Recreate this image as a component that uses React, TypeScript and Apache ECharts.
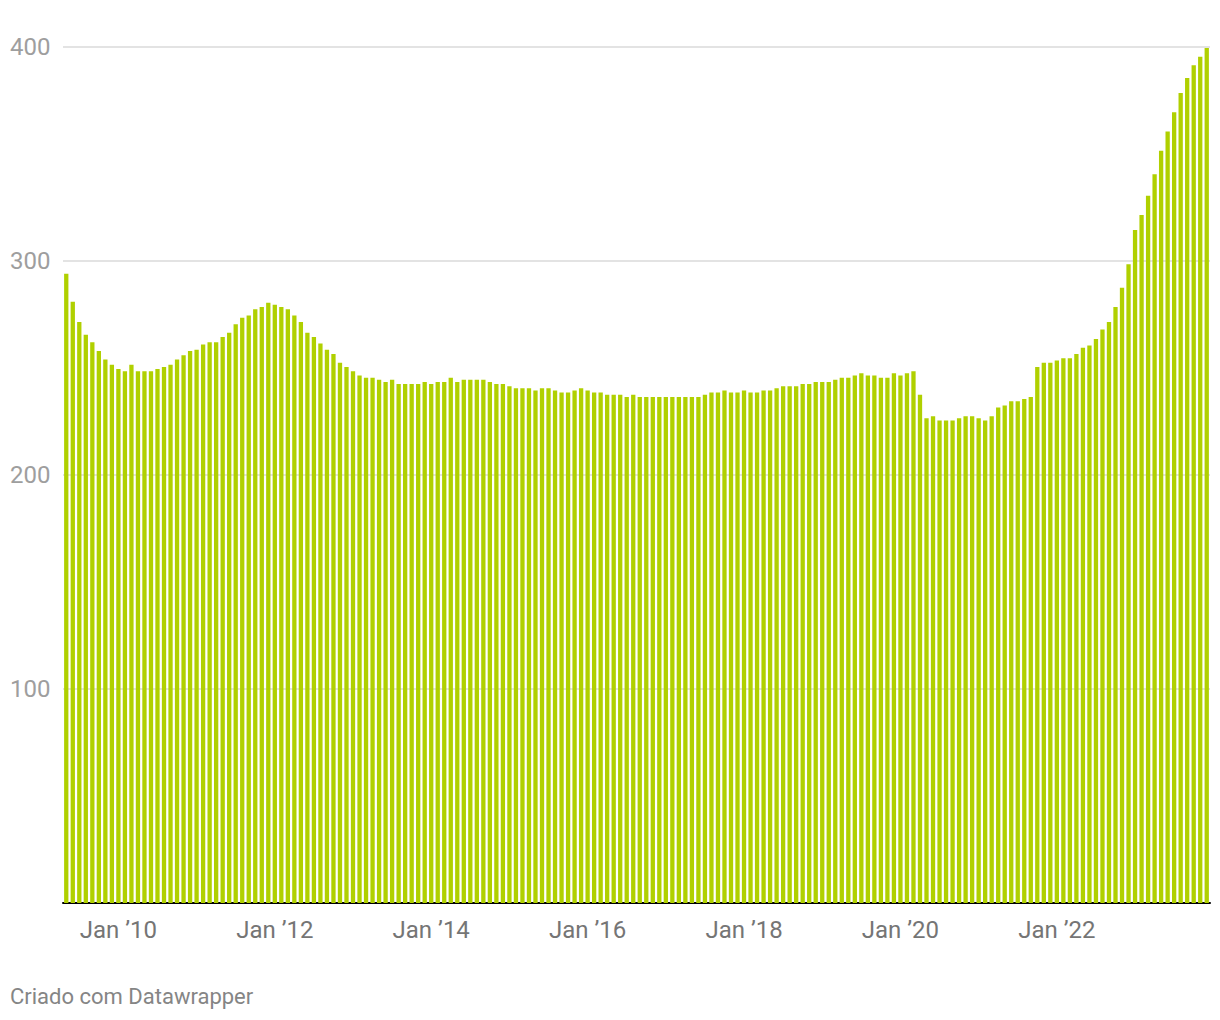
import React, { useEffect, useRef } from "react";
import * as echarts from "echarts";

const startYear = 2009;
const startMonth = 5; // May 2009

const values: number[] = [
  294, 281, 271.5, 265.5, 262, 258, 254, 251.5, 249.5, 248.5,
  251.5, 248.5, 248.5, 248.5, 249.5, 250.5, 251.5, 254, 256, 258,
  258.5, 261, 262, 262, 264.5, 266.5, 270.5, 273.5, 274.5, 277.5,
  278.5, 280.5, 279.5, 278.5, 277.5, 274.5, 271.5, 266.5, 264.5, 261.5,
  258.5, 256.5, 252.5, 250.5, 248.5, 246.5, 245.5, 245.5, 244.5, 243.5,
  244.5, 242.5, 242.5, 242.5, 242.5, 243.5, 242.5, 243.5, 243.5, 245.5,
  243.5, 244.5, 244.5, 244.5, 244.5, 243.5, 242.5, 242.5, 241.5, 240.5,
  240.5, 240.5, 239.5, 240.5, 240.5, 239.5, 238.5, 238.5, 239.5, 240.5,
  239.5, 238.5, 238.5, 237.5, 237.5, 237.5, 236.5, 237.5, 236.5, 236.5,
  236.5, 236.5, 236.5, 236.5, 236.5, 236.5, 236.5, 236.5, 237.5, 238.5,
  238.5, 239.5, 238.5, 238.5, 239.5, 238.5, 238.5, 239.5, 239.5, 240.5,
  241.5, 241.5, 241.5, 242.5, 242.5, 243.5, 243.5, 243.5, 244.5, 245.5,
  245.5, 246.5, 247.5, 246.5, 246.5, 245.5, 245.5, 247.5, 246.5, 247.5,
  248.5, 237.5, 226.5, 227.5, 225.5, 225.5, 225.5, 226.5, 227.5, 227.5,
  226.5, 225.5, 227.5, 231.5, 232.5, 234.5, 234.5, 235.5, 236.5, 250.5,
  252.5, 252.5, 253.5, 254.5, 254.5, 256.5, 259.5, 260.5, 263.5, 268,
  271.5, 278.5, 287.5, 298.5, 314.5, 321.5, 330.5, 340.5, 351.5, 360.5,
  369.5, 378.5, 385.5, 391.5, 395.5, 399.5,
];

// month categories "YYYY-MM", one per bar
const categories: string[] = values.map((_, i) => {
  const m = startMonth - 1 + i;
  const y = startYear + Math.floor(m / 12);
  const mm = (m % 12) + 1;
  return `${y}-${mm < 10 ? "0" + mm : mm}`;
});

const yTicks = [0, 100, 200, 300, 400];
const footerText = "Criado com Datawrapper";
const barColor = "#b0d000";

export default function App() {
  const ref = useRef<HTMLDivElement>(null);
  useEffect(() => {
    if (!ref.current) return;
    const chart = echarts.init(ref.current, undefined, { renderer: "svg" });
    chart.setOption({
      animation: false,
      backgroundColor: "#ffffff",
      textStyle: { fontFamily: "Roboto" },
      grid: { left: 63, right: 10, top: 47, bottom: 117, containLabel: false },
      xAxis: {
        type: "category",
        data: categories,
        axisLine: { show: true, lineStyle: { color: "#000000", width: 2 } },
        axisTick: { show: false },
        axisLabel: {
          interval: (idx: number, val: string) => {
            const [y, m] = val.split("-");
            return m === "01" && Number(y) % 2 === 0;
          },
          formatter: (val: string) => {
            const [y] = val.split("-");
            return "Jan \u2019" + y.slice(2);
          },
          color: "#757575",
          fontSize: 24,
          fontFamily: "Roboto",
          margin: 15,
        },
        splitLine: { show: false },
      },
      yAxis: {
        type: "value",
        min: yTicks[0],
        max: yTicks[yTicks.length - 1],
        interval: 100,
        axisLine: { show: false },
        axisTick: { show: false },
        axisLabel: {
          showMinLabel: false,
          align: "left",
          margin: 53,
          color: "#9e9e9e",
          fontSize: 24,
          fontFamily: "Roboto",
        },
        splitLine: { show: true, lineStyle: { color: "#e3e3e3", width: 2 } },
      },
      series: [
        {
          type: "bar",
          data: values,
          itemStyle: { color: barColor },
          barCategoryGap: "34%",
        },
      ],
      graphic: [
        {
          type: "text",
          left: 10,
          top: 985,
          style: {
            text: footerText,
            fill: "#858585",
            fontSize: 22,
            fontFamily: "Roboto",
          },
        },
      ],
    });
    return () => chart.dispose();
  }, []);
  return (
    <div
      ref={ref}
      style={{ position: "absolute", left: 0, top: 0, width: 1220, height: 1020 }}
    />
  );
}
